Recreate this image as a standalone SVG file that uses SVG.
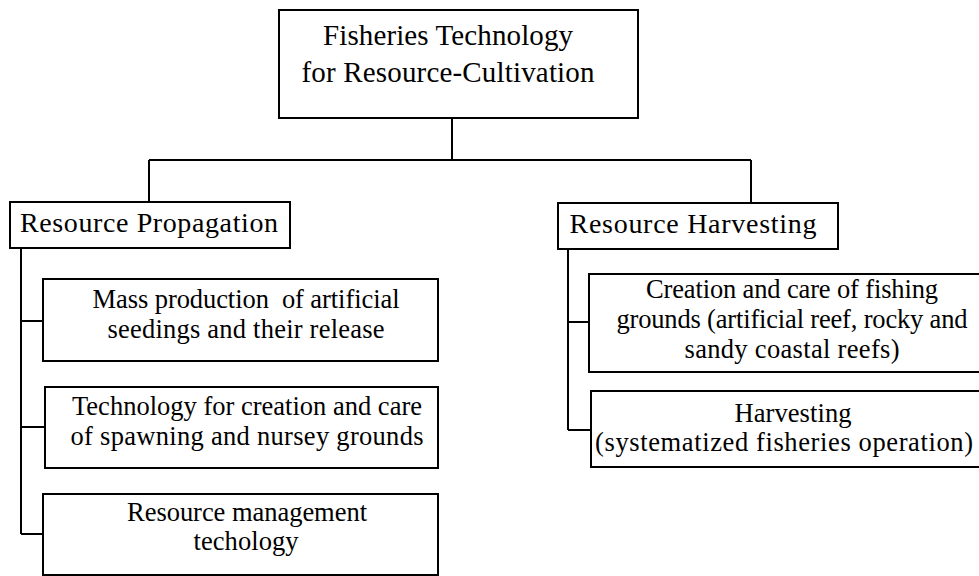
<svg xmlns="http://www.w3.org/2000/svg" width="979" height="576" viewBox="0 0 979 576" font-family="'Liberation Serif', 'Times New Roman', serif">
<style>
.box{fill:#fff;stroke:#000;stroke-width:2}
.ln{fill:none;stroke:#000;stroke-width:2}
text{font-family:'Liberation Serif','Times New Roman',serif;fill:#000;text-anchor:middle;white-space:pre}
.t1{font-size:29px}
.t2{font-size:28px}
.t3{font-size:26.5px}
</style>
<rect width="979" height="576" fill="#fff"/>
<g id="connectors">
<path class="ln" d="M452 118V160M149 160H751M149 160V202M751 160V203"/>
<path class="ln" d="M21 248V534M21 321H43M21 427H45M21 534H43"/>
<path class="ln" d="M568 249V430M568 322H589M568 430H591"/>
</g>
<g id="root">
<rect class="box" x="279" y="10" width="359" height="108"/>
<text class="t1" x="448" y="45" textLength="250" lengthAdjust="spacing">Fisheries Technology</text>
<text class="t1" x="448" y="82" textLength="293" lengthAdjust="spacing">for Resource-Cultivation</text>
</g>
<g id="propagation">
<rect class="box" x="10" y="202" width="280" height="46"/>
<text class="t2" x="149" y="232" textLength="258" lengthAdjust="spacing">Resource Propagation</text>
</g>
<g id="harvesting-group">
<rect class="box" x="558" y="203" width="280" height="46"/>
<text class="t2" x="693" y="233" textLength="247" lengthAdjust="spacing">Resource Harvesting</text>
</g>
<g id="mass-production">
<rect class="box" x="43" y="279" width="395" height="82"/>
<text class="t3" x="246" y="308" textLength="307" lengthAdjust="spacing" xml:space="preserve">Mass production  of artificial</text>
<text class="t3" x="246" y="338" textLength="277" lengthAdjust="spacing">seedings and their release</text>
</g>
<g id="spawning">
<rect class="box" x="45" y="387" width="393" height="81"/>
<text class="t3" x="247" y="415" textLength="350" lengthAdjust="spacing">Technology for creation and care</text>
<text class="t3" x="247" y="445" textLength="353" lengthAdjust="spacing">of spawning and nursey grounds</text>
</g>
<g id="management">
<rect class="box" x="43" y="494" width="395" height="81"/>
<text class="t3" x="247" y="521" textLength="240" lengthAdjust="spacing">Resource management</text>
<text class="t3" x="246" y="550" textLength="105" lengthAdjust="spacing">techology</text>
</g>
<g id="fishing-grounds">
<rect class="box" x="589" y="274" width="395" height="98"/>
<text class="t3" x="792" y="298" textLength="292" lengthAdjust="spacing">Creation and care of fishing</text>
<text class="t3" x="792" y="328" textLength="351" lengthAdjust="spacing">grounds (artificial reef, rocky and</text>
<text class="t3" x="792" y="358" textLength="215" lengthAdjust="spacing">sandy coastal reefs)</text>
</g>
<g id="harvesting">
<rect class="box" x="591" y="391" width="393" height="76"/>
<text class="t3" x="793" y="422" textLength="117" lengthAdjust="spacing">Harvesting</text>
<text class="t3" x="784" y="451" textLength="378" lengthAdjust="spacing">(systematized fisheries operation)</text>
</g>
</svg>
